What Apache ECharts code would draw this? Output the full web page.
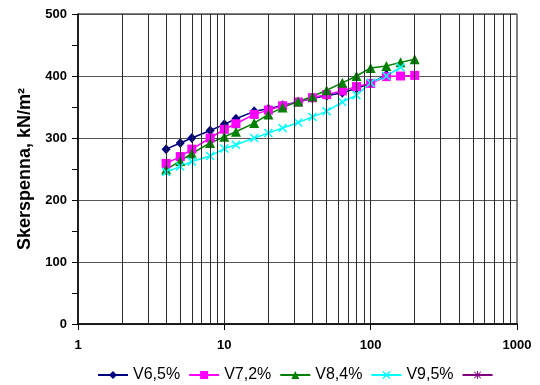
<!DOCTYPE html>
<html>
<head>
<meta charset="utf-8">
<script src="https://cdn.jsdelivr.net/npm/echarts@6/dist/echarts.min.js"></script>
<style>
  html, body { margin: 0; padding: 0; background: #fff; }
  #chart { width: 540px; height: 385px; }
</style>
</head>
<body>
<div id="chart"></div>
<script>
// Time steps (log scale) and shear strength per series
const times = [4, 5, 6, 8, 10, 12, 16, 20, 25, 32, 40, 50, 64, 80, 100, 128, 160, 200];
const v65 = [282, 292, 300, 312, 322, 331, 343, 347, 353, 358, 364, 368, 373, 380, 388, 402];
const v72 = [259, 270, 282, 300, 314, 323, 338, 345, 352, 358, 365, 370, 376, 383, 388, 399, 400, 401];
const v84 = [249, 263, 275, 292, 302, 310, 324, 338, 349, 359, 367, 377, 389, 400, 413, 416, 422, 427];
const v95 = [245, 254, 262, 271, 283, 289, 300, 308, 316, 325, 334, 343, 358, 369, 389, 400, 414];
const v_empty = [];
const seriesNames = ['V6,5%', 'V7,2%', 'V8,4%', 'V9,5%', ' '];
// Minor log gridlines between decades
const minorGrid = [2, 3, 4, 5, 6, 7, 8, 9, 20, 30, 40, 50, 60, 70, 80, 90, 200, 300, 400, 500, 600, 700, 800, 900];
const majorGrid = [10, 100];

function pairs(vals) {
  return vals.map((v, i) => [times[i], v]);
}

const FONT = 'Arial, "Liberation Sans", sans-serif';

const chart = echarts.init(document.getElementById('chart'));

function mkSeries(name, vals, color, symbol, size) {
  return {
    name: name,
    type: 'line',
    data: pairs(vals),
    symbol: symbol,
    symbolSize: size,
    z: 3,
    lineStyle: { color: color, width: 1.5 },
    itemStyle: { color: color, borderWidth: 0 },
    emphasis: { disabled: true },
    animation: false
  };
}

// Marker shapes built from thin filled bars
const crossPath = 'path://M0,1.2L1.2,0L10,8.8L8.8,10Z M8.8,0L10,1.2L1.2,10L0,8.8Z';
const starPath = 'path://M4.4,0H5.6V10H4.4Z M0,4.4H10V5.6H0Z M0.5,1.3L1.3,0.5L9.5,8.7L8.7,9.5Z M8.7,0.5L9.5,1.3L1.3,9.5L0.5,8.7Z';

chart.setOption({
  animation: false,
  backgroundColor: '#fff',
  grid: {
    left: 78, right: 23, top: 14, bottom: 61,
    show: true, borderColor: '#000', borderWidth: 1, backgroundColor: 'transparent'
  },
  legend: {
    data: seriesNames,
    top: 362,
    left: 92,
    itemWidth: 30,
    itemHeight: 10,
    itemGap: 8,
    textStyle: { fontFamily: FONT, fontSize: 16, color: '#000' }
  },
  xAxis: {
    type: 'log',
    logBase: 10,
    min: 1,
    max: 1000,
    axisLine: { show: true, lineStyle: { color: '#000', width: 1.5 } },
    axisTick: { show: true, length: 6, lineStyle: { color: '#000', width: 1 } },
    axisLabel: {
      fontFamily: FONT, fontSize: 13, fontWeight: 'bold', color: '#000', margin: 15,
      formatter: v => String(v)
    },
    splitLine: { show: false }
  },
  yAxis: {
    type: 'value',
    min: 0,
    max: 500,
    interval: 100,
    name: 'Skerspenna, kN/m²',
    nameLocation: 'middle',
    nameGap: 42,
    nameTextStyle: { fontFamily: FONT, fontSize: 18, fontWeight: 'bold', color: '#000' },
    axisLine: { show: true, lineStyle: { color: '#000', width: 1.5 } },
    axisTick: { show: true, length: 6, lineStyle: { color: '#000' } },
    minorTick: { show: true, splitNumber: 2, length: 6, lineStyle: { color: '#000' } },
    axisLabel: { fontFamily: FONT, fontSize: 13, fontWeight: 'bold', color: '#000', margin: 11 },
    splitLine: { show: true, lineStyle: { color: '#555', width: 1.2 } }
  },
  series: [
    {
      type: 'line',
      data: [],
      z: 1,
      silent: true,
      markLine: {
        silent: true,
        symbol: 'none',
        animation: false,
        label: { show: false },
        lineStyle: { color: '#2a2a2a', width: 1, type: 'solid' },
        data: minorGrid.concat(majorGrid).map(v => ({ xAxis: v }))
      }
    },
    mkSeries('V6,5%', v65, '#000080', 'diamond', [9, 10]),
    mkSeries('V7,2%', v72, '#ff00ff', 'rect', 9),
    mkSeries('V8,4%', v84, '#008000', 'triangle', 10),
    mkSeries('V9,5%', v95, '#00ffff', crossPath, 9),
    mkSeries(' ', v_empty, '#800080', starPath, 10)
  ]
});
</script>
</body>
</html>
